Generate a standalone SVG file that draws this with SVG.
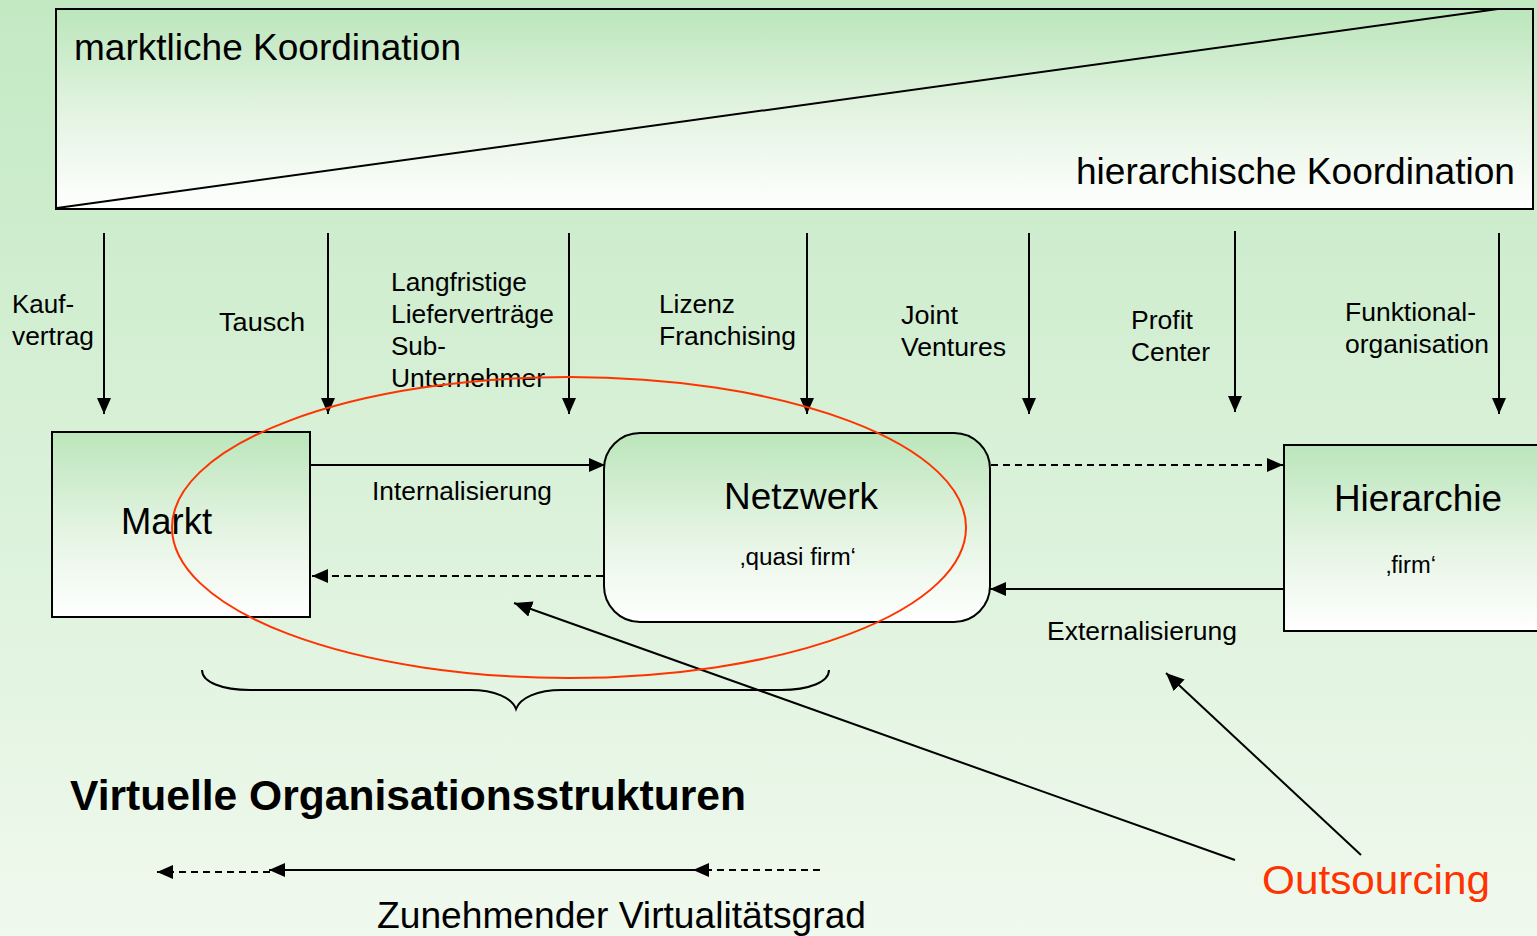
<svg xmlns="http://www.w3.org/2000/svg" width="1537" height="936" viewBox="0 0 1537 936">
<defs>
<linearGradient id="bg" x1="0" y1="0" x2="0" y2="1">
<stop offset="0" stop-color="#c3e9c3"/>
<stop offset="1" stop-color="#f0f9ee"/>
</linearGradient>
<linearGradient id="box" x1="0" y1="0" x2="0" y2="1">
<stop offset="0" stop-color="#bbe6bb"/>
<stop offset="0.5" stop-color="#e2f3e0"/>
<stop offset="1" stop-color="#ffffff"/>
</linearGradient>
<marker id="ah" viewBox="0 0 10 10" refX="10" refY="5" markerWidth="16" markerHeight="14" markerUnits="userSpaceOnUse" orient="auto" preserveAspectRatio="none">
<path d="M0,0 L10,5 L0,10 z" fill="#000"/>
</marker>
<marker id="ahs" viewBox="0 0 10 10" refX="10" refY="5" markerWidth="18" markerHeight="16" markerUnits="userSpaceOnUse" orient="auto" preserveAspectRatio="none">
<path d="M0,0 L10,5 L0,10 z" fill="#000"/>
</marker>
<style>
text{font-family:"Liberation Sans",Arial,sans-serif;fill:#000}
.lbl{font-size:26px}
.big{font-size:36px}
.mid{font-size:25px}
.sm{font-size:23px}
.ln{stroke:#000;stroke-width:2;fill:none}
.dash{stroke:#000;stroke-width:2;fill:none;stroke-dasharray:7 5}
.node{stroke:#000;stroke-width:2;fill:url(#box)}
</style>
</defs>
<rect x="0" y="0" width="1537" height="936" fill="url(#bg)"/>

<g id="koordination">
<rect x="56" y="9" width="1477" height="200" fill="url(#box)" stroke="#000" stroke-width="2"/>
<line x1="57" y1="208" x2="1498" y2="9" stroke="#000" stroke-width="2"/>
<text x="74" y="60" class="big" textLength="387" lengthAdjust="spacingAndGlyphs">marktliche Koordination</text>
<text x="1076" y="184" class="big" textLength="439" lengthAdjust="spacingAndGlyphs">hierarchische Koordination</text>
</g>

<g id="labels">
<text x="12" y="313" class="lbl">Kauf-</text>
<text x="12" y="345" class="lbl" textLength="82" lengthAdjust="spacingAndGlyphs">vertrag</text>
<text x="219" y="331" class="lbl" textLength="86" lengthAdjust="spacingAndGlyphs">Tausch</text>
<text x="391" y="291" class="lbl" textLength="136" lengthAdjust="spacingAndGlyphs">Langfristige</text>
<text x="391" y="323" class="lbl" textLength="163" lengthAdjust="spacingAndGlyphs">Lieferverträge</text>
<text x="391" y="355" class="lbl">Sub-</text>
<text x="391" y="387" class="lbl" textLength="154" lengthAdjust="spacingAndGlyphs">Unternehmer</text>
<text x="659" y="313" class="lbl" textLength="76" lengthAdjust="spacingAndGlyphs">Lizenz</text>
<text x="659" y="345" class="lbl" textLength="137" lengthAdjust="spacingAndGlyphs">Franchising</text>
<text x="901" y="324" class="lbl" textLength="57" lengthAdjust="spacingAndGlyphs">Joint</text>
<text x="901" y="356" class="lbl" textLength="105" lengthAdjust="spacingAndGlyphs">Ventures</text>
<text x="1131" y="329" class="lbl" textLength="62" lengthAdjust="spacingAndGlyphs">Profit</text>
<text x="1131" y="361" class="lbl" textLength="79" lengthAdjust="spacingAndGlyphs">Center</text>
<text x="1345" y="321" class="lbl" textLength="131" lengthAdjust="spacingAndGlyphs">Funktional-</text>
<text x="1345" y="353" class="lbl" textLength="144" lengthAdjust="spacingAndGlyphs">organisation</text>
</g>

<g id="markt">
<rect x="52" y="432" width="258" height="185" class="node"/>
<text x="121" y="534" class="big" textLength="91" lengthAdjust="spacingAndGlyphs">Markt</text>
</g>

<g id="netzwerk">
<rect x="604" y="433" width="386" height="189" rx="36" ry="36" class="node"/>
<text x="724" y="509" class="big" textLength="154" lengthAdjust="spacingAndGlyphs">Netzwerk</text>
<text x="740" y="565" class="sm" textLength="116" lengthAdjust="spacingAndGlyphs">‚quasi firm‘</text>
</g>

<g id="hierarchie">
<rect x="1284" y="445" width="260" height="186" class="node"/>
<text x="1334" y="511" class="big" textLength="168" lengthAdjust="spacingAndGlyphs">Hierarchie</text>
<text x="1386" y="573" class="sm" textLength="50" lengthAdjust="spacingAndGlyphs">‚firm‘</text>
</g>

<g id="connectors">
<line x1="104" y1="233" x2="104" y2="414" class="ln" marker-end="url(#ah)"/>
<line x1="328" y1="233" x2="328" y2="414" class="ln" marker-end="url(#ah)"/>
<line x1="569" y1="233" x2="569" y2="414" class="ln" marker-end="url(#ah)"/>
<line x1="807" y1="233" x2="807" y2="414" class="ln" marker-end="url(#ah)"/>
<line x1="1029" y1="233" x2="1029" y2="414" class="ln" marker-end="url(#ah)"/>
<line x1="1235" y1="231" x2="1235" y2="412" class="ln" marker-end="url(#ah)"/>
<line x1="1499" y1="233" x2="1499" y2="414" class="ln" marker-end="url(#ah)"/>

<line x1="310" y1="465" x2="605" y2="465" class="ln" marker-end="url(#ah)"/>
<line x1="603" y1="576" x2="312" y2="576" class="dash" marker-end="url(#ah)"/>
<line x1="991" y1="465" x2="1283" y2="465" class="dash" marker-end="url(#ah)"/>
<line x1="1284" y1="589" x2="990" y2="589" class="ln" marker-end="url(#ah)"/>

<line x1="1235" y1="860" x2="514" y2="603" class="ln" marker-end="url(#ahs)"/>
<line x1="1361" y1="855" x2="1166" y2="673" class="ln" marker-end="url(#ahs)"/>

<line x1="270" y1="872" x2="157" y2="872" class="dash" marker-end="url(#ah)"/>
<line x1="694" y1="870" x2="269" y2="870" class="ln" marker-end="url(#ah)"/>
<line x1="820" y1="870" x2="693" y2="870" class="dash" marker-end="url(#ah)"/>

<path d="M202,670 C202,682 222,690 250,690 L470,690 C495,690 512,698 516,709 C520,698 537,690 562,690 L781,690 C809,690 829,682 829,670" class="ln"/>

<ellipse cx="569" cy="527.5" rx="397" ry="150.5" fill="none" stroke="#ff3300" stroke-width="2"/>

<text x="372" y="500" class="mid" textLength="180" lengthAdjust="spacingAndGlyphs">Internalisierung</text>
<text x="1047" y="640" class="mid" textLength="190" lengthAdjust="spacingAndGlyphs">Externalisierung</text>
</g>

<g id="unten">
<text x="70" y="810" style="font-size:42px;font-weight:bold" textLength="676" lengthAdjust="spacingAndGlyphs">Virtuelle Organisationsstrukturen</text>
<text x="377" y="928" class="big" textLength="489" lengthAdjust="spacingAndGlyphs">Zunehmender Virtualitätsgrad</text>
<text x="1262" y="894" style="font-size:41px;fill:#ff3300" textLength="228" lengthAdjust="spacingAndGlyphs">Outsourcing</text>
</g>
</svg>
